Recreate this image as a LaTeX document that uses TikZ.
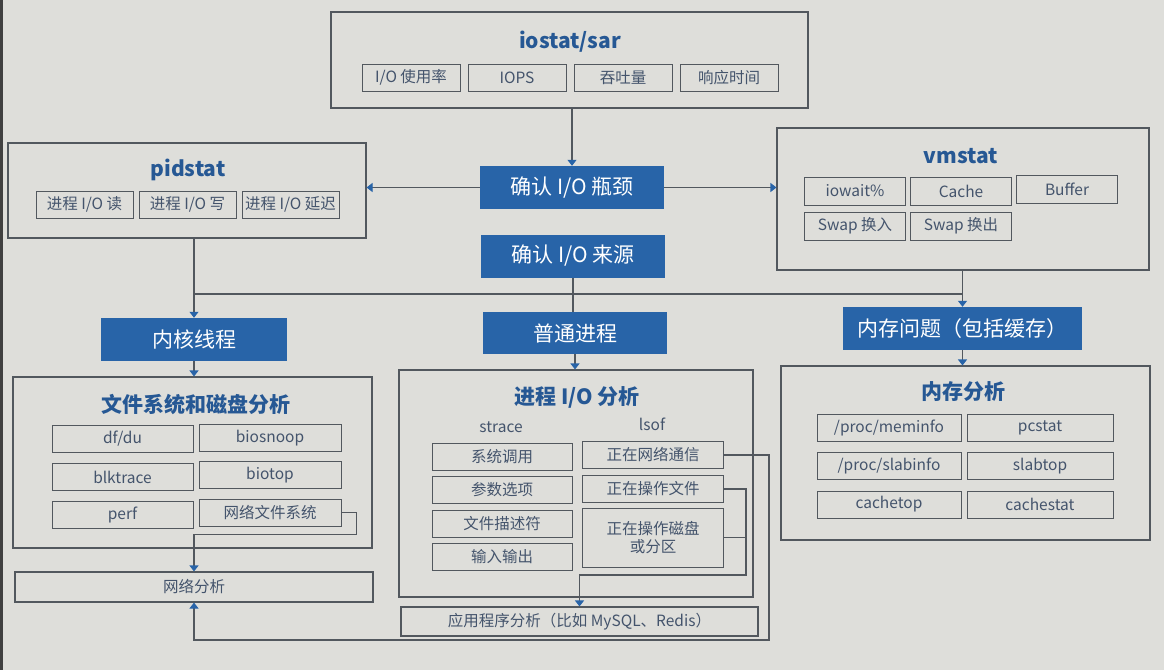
\documentclass[tikz,border=0pt]{standalone}
\usepackage{fontspec}
\setmainfont{Noto Sans CJK SC}
\usepackage{tikz}
\usetikzlibrary{arrows.meta,calc}
\usepackage{xcolor}
\definecolor{paper}{RGB}{222,222,218}
\definecolor{ioblue}{RGB}{40,100,168}
\definecolor{titleblue}{RGB}{38,88,148}
\definecolor{linegray}{RGB}{82,88,94}
\definecolor{textgray}{RGB}{68,84,108}

\begin{document}
\begin{tikzpicture}[x=1pt,y=-1pt,
  panel/.style={draw=linegray,line width=1.1pt,inner sep=0pt},
  item/.style={draw=linegray,line width=1pt,text=textgray,font=\fontsize{15.5}{18}\selectfont,inner sep=0pt,minimum height=27pt},
  stage/.style={fill=ioblue,text=white,font=\fontsize{21}{23}\selectfont,inner sep=0pt,minimum height=43pt},
  heading/.style={text=titleblue,font=\bfseries\fontsize{21}{24}\selectfont},
  link/.style={draw=linegray,line width=1.1pt},
  flow/.style={link,-{Triangle[width=9pt,length=6pt,color=ioblue]}}]
\useasboundingbox (0,0) rectangle (1164,670);
\fill[paper] (0,0) rectangle (1164,670);
\draw[black!75,line width=3pt] (1.5,0) -- (1.5,670);

% iostat
\node[panel,minimum width=477pt,minimum height=96pt] (iostat) at (569.5,60) {};
\node[heading] (iostatT) at (570,42) {iostat/sar};
\node[item,minimum width=98pt] (util) at (411,77.5) {I/O 使用率};
\node[item,minimum width=98pt] (iops) at (517,77.5) {IOPS};
\node[item,minimum width=98pt] (tput) at (623,77.5) {吞吐量};
\node[item,minimum width=98pt] (resp) at (729,77.5) {响应时间};

\node[stage,minimum width=184pt] (bottleneck) at (572,187.5) {确认 I/O 瓶颈};
\node[stage,minimum width=184pt] (source) at (573,256) {确认 I/O 来源};

% pidstat
\node[panel,minimum width=358pt,minimum height=95pt] (pidstat) at (187,190.5) {};
\node[heading] (pidstatT) at (188,170) {pidstat};
\node[item,minimum width=97pt] (pread) at (84.5,204.5) {进程 I/O 读};
\node[item,minimum width=97pt] (pwrite) at (187.5,204.5) {进程 I/O 写};
\node[item,minimum width=97pt] (plat) at (290.5,204.5) {进程 I/O 延迟};

% vmstat
\node[panel,minimum width=372pt,minimum height=142pt] (vmstat) at (963,199) {};
\node[heading] (vmstatT) at (961,156) {vmstat};
\node[item,minimum width=101pt,minimum height=28pt] (iowait) at (855,191) {iowait\%};
\node[item,minimum width=101pt,minimum height=28pt] (cache) at (961,191) {Cache};
\node[item,minimum width=101pt,minimum height=28pt] (buffer) at (1067,189) {Buffer};
\node[item,minimum width=101pt,minimum height=28pt] (swapin) at (855,226) {Swap 换入};
\node[item,minimum width=101pt,minimum height=28pt] (swapout) at (961,226) {Swap 换出};

\node[stage,minimum width=186pt] (kernel) at (194,339.5) {内核线程};
\node[stage,minimum width=184pt,minimum height=42pt] (normal) at (575,333) {普通进程};
\node[stage,minimum width=239pt] (memq) at (962.5,328.5) {内存问题（包括缓存）};
\coordinate (bus) at (573,294);

% file system and disk
\node[panel,minimum width=359pt,minimum height=171pt] (fs) at (192.5,462.5) {};
\node[heading] (fsT) at (196,404) {文件系统和磁盘分析};
\node[item,minimum width=141pt] (dfdu) at (122.5,439) {df/du};
\node[item,minimum width=142pt] (biosnoop) at (270,438) {biosnoop};
\node[item,minimum width=141pt] (blktrace) at (122.5,477) {blktrace};
\node[item,minimum width=142pt] (biotop) at (270,475) {biotop};
\node[item,minimum width=141pt] (perf) at (122.5,515) {perf};
\node[item,minimum width=142pt] (nfs) at (270,512.5) {网络文件系统};
\node[panel,minimum width=358pt,minimum height=30pt,text=textgray,font=\fontsize{15.5}{18}\selectfont] (net) at (194,587) {网络分析};

% process I/O
\node[panel,minimum width=354pt,minimum height=227pt] (proc) at (576,483.5) {};
\node[heading] (procT) at (577,397) {进程 I/O 分析};
\node[text=textgray,font=\fontsize{15.5}{18}\selectfont] (strace) at (501,427) {strace};
\node[text=textgray,font=\fontsize{15.5}{18}\selectfont] (lsof) at (652,424) {lsof};
\node[item,minimum width=140pt] (syscall) at (502,457) {系统调用};
\node[item,minimum width=140pt] (args) at (502,490) {参数选项};
\node[item,minimum width=140pt] (fd) at (502,523.5) {文件描述符};
\node[item,minimum width=140pt] (inout) at (502,556.5) {输入输出};
\node[item,minimum width=141pt] (netcomm) at (653,455) {正在网络通信};
\node[item,minimum width=141pt] (fileop) at (653,489) {正在操作文件};
\node[item,minimum width=141pt,minimum height=59pt,align=center] (diskop) at (653,537.5) {正在操作磁盘\\或分区};
\node[panel,minimum width=357pt,minimum height=29pt,text=textgray,font=\fontsize{15.5}{18}\selectfont] (app) at (579.5,621.5) {应用程序分析（比如 MySQL、Redis）};

% memory
\node[panel,minimum width=369pt,minimum height=174pt] (mem) at (965.5,453) {};
\node[heading] (memT) at (963,392) {内存分析};
\node[item,minimum width=144pt] (meminfo) at (889,428) {/proc/meminfo};
\node[item,minimum width=146pt] (pcstat) at (1040,427.5) {pcstat};
\node[item,minimum width=144pt] (slabinfo) at (889,466) {/proc/slabinfo};
\node[item,minimum width=146pt] (slabtop) at (1040,466) {slabtop};
\node[item,minimum width=144pt] (cachetop) at (889,504.5) {cachetop};
\node[item,minimum width=146pt] (cachestat) at (1040,504.5) {cachestat};

% connectors
\draw[flow] (bottleneck.north |- iostat.south) -- (bottleneck.north);
\draw[flow] (bottleneck.west) -- (bottleneck.west -| pidstat.east);
\draw[flow] (bottleneck.east) -- (bottleneck.east -| vmstat.west);
\draw[link] (source.south) -- (source.south |- normal.north);
\draw[link] (kernel.north |- bus) -- (memq.north |- bus);
\draw[flow] (kernel.north |- pidstat.south) -- (kernel.north);
\draw[flow] (memq.north |- vmstat.south) -- (memq.north);
\draw[flow] (kernel.south) -- (kernel.south |- fs.north);
\draw[flow] (normal.south) -- (normal.south |- proc.north);
\draw[flow] (memq.south) -- (memq.south |- mem.north);
\draw[flow] (nfs.east) -- ++(15,0) -- ++(0,22) -| (net.north);
\draw[flow] (netcomm.east) -- ++(45,0) -- ++(0,185) -| (net.south);
\draw[flow] (fileop.east) -- ++(22,0) coordinate (fj) -- ++(0,86) -| (app.north);
\draw[link] (diskop.east) -- (fj |- diskop.east);
\end{tikzpicture}
\end{document}
